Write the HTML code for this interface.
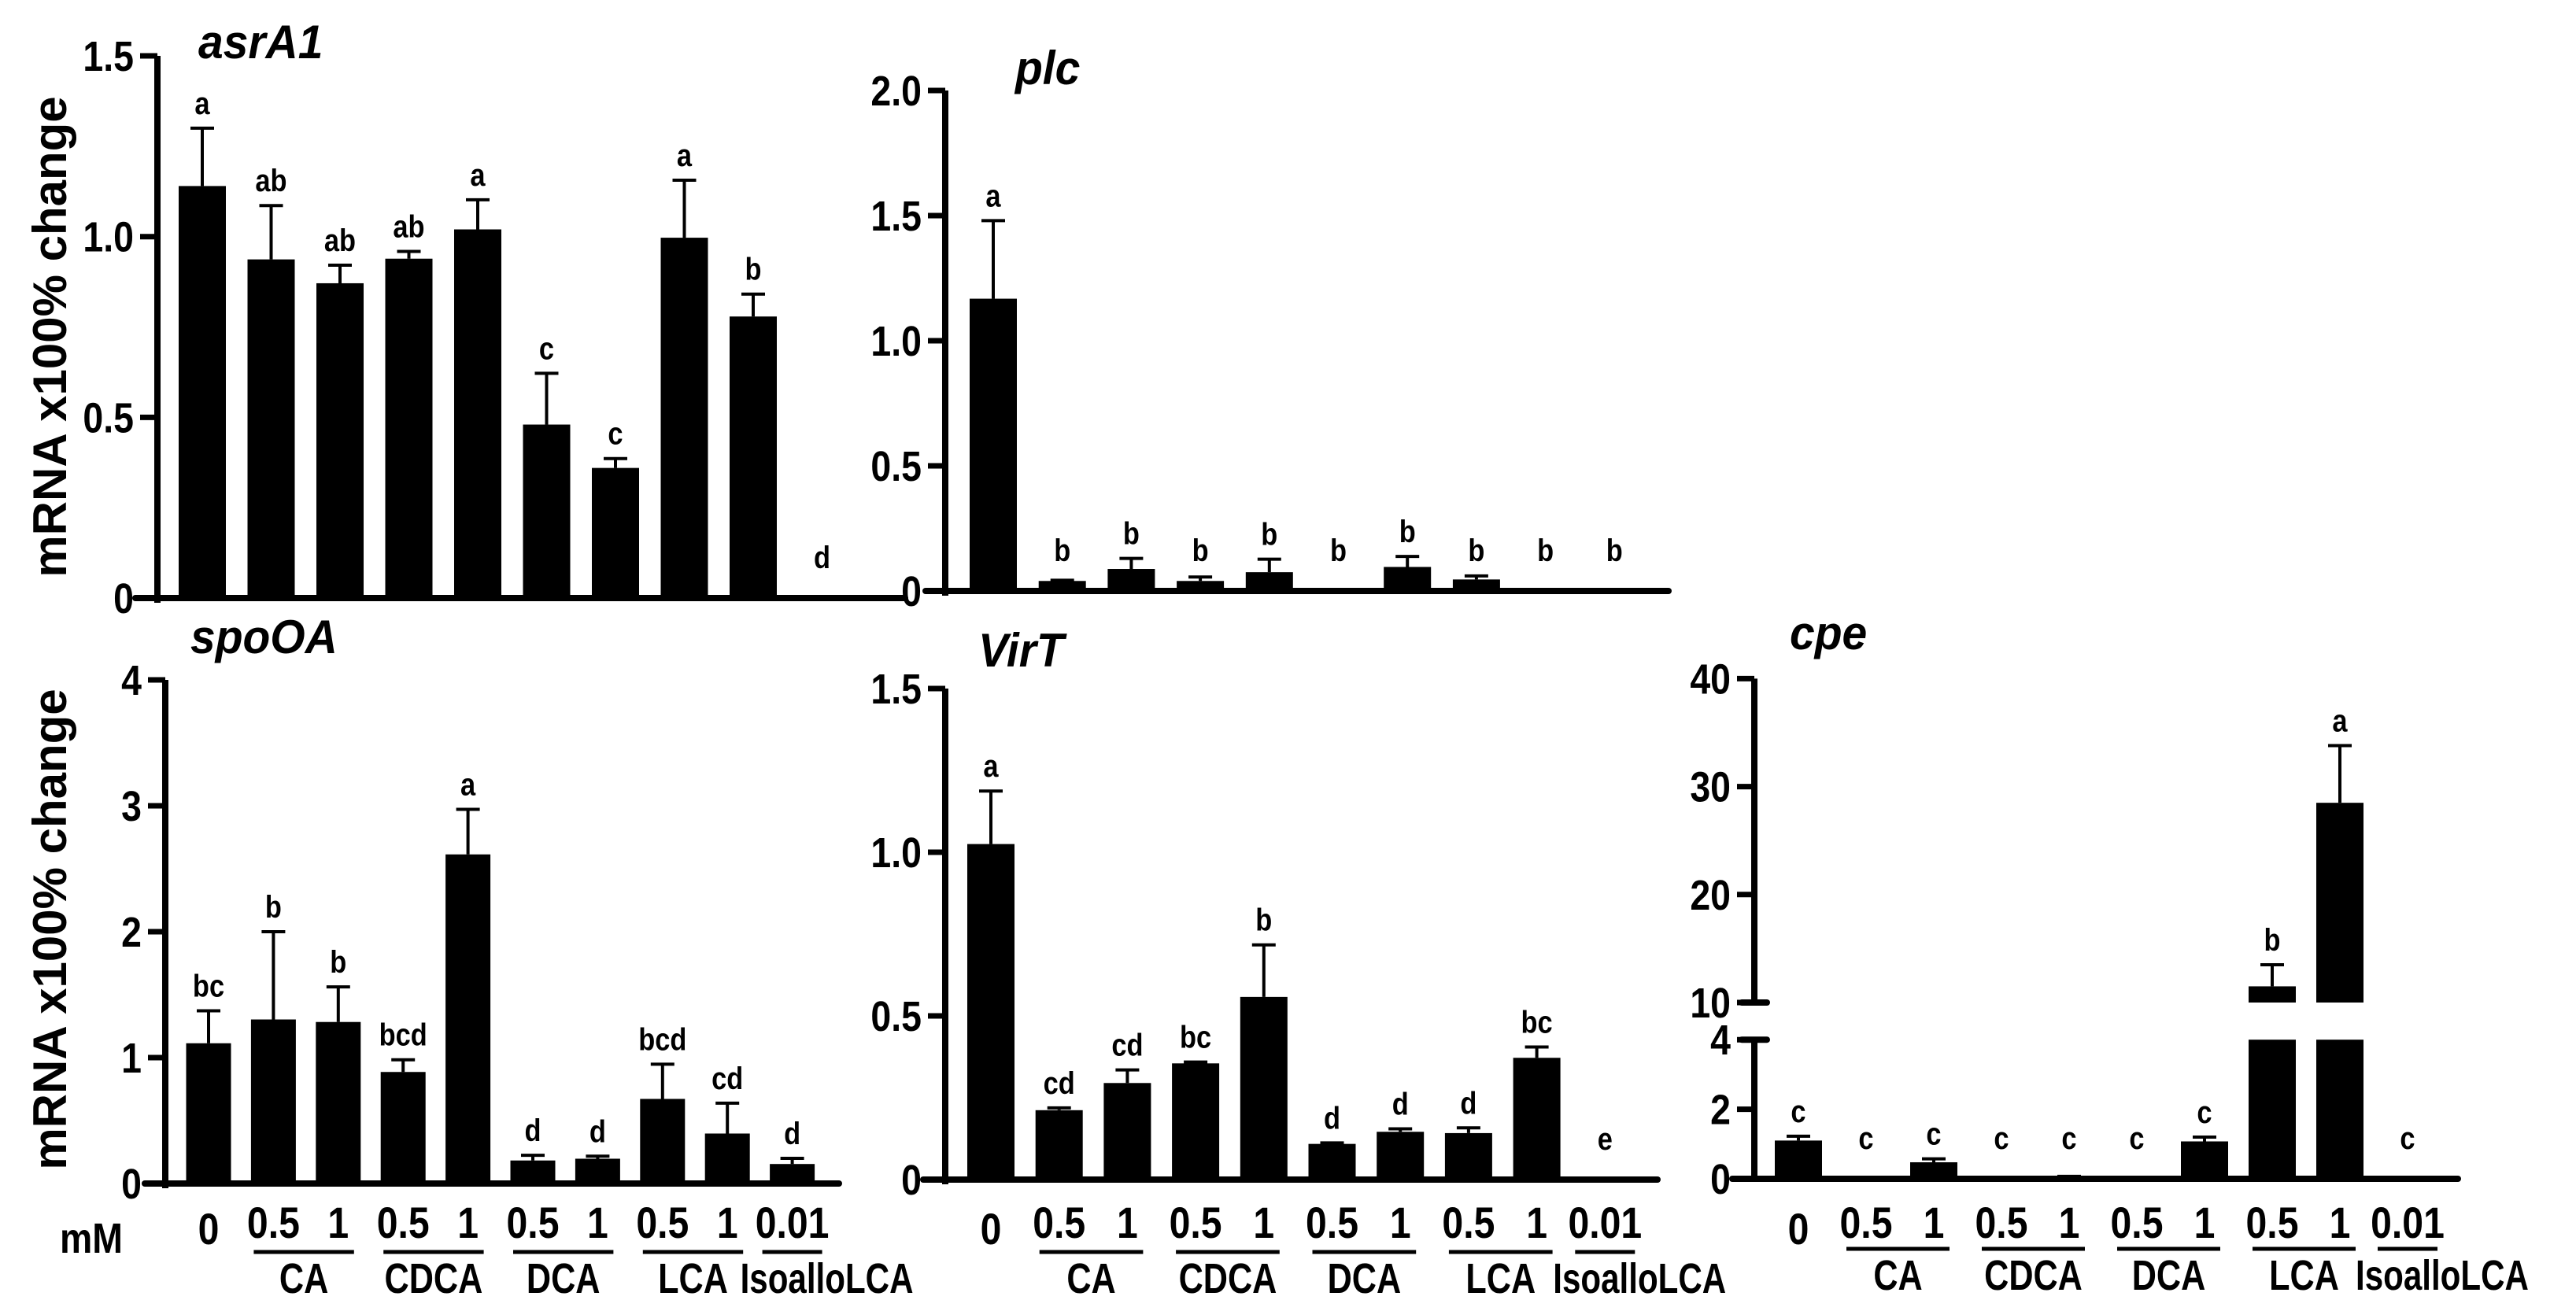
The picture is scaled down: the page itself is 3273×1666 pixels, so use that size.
<!DOCTYPE html>
<html><head><meta charset="utf-8"><style>
html,body{margin:0;padding:0;background:#fff;}
svg{display:block;font-family:"Liberation Sans",Arial,sans-serif;font-weight:bold;}
</style></head><body>
<svg id="fig" width="3273" height="1666" viewBox="0 0 3273 1666" xmlns="http://www.w3.org/2000/svg"></svg>
<script>
// ---- data ----
const doseLabels = ["0","0.5","1","0.5","1","0.5","1","0.5","1","0.01"];
const groupNames = ["CA","CDCA","DCA","LCA","IsoalloLCA"];
const asrA1Values = [1.14,0.937,0.871,0.939,1.02,0.48,0.36,0.997,0.779,0];
const asrA1Errors = [1.30,1.086,0.921,0.959,1.102,0.622,0.386,1.156,0.841,0];
const asrA1Letters = ["a","ab","ab","ab","a","c","c","a","b","d"];
const asrA1Ticks = ["0","0.5","1.0","1.5"];
const plcValues = [1.168,0.04,0.088,0.04,0.075,0,0.096,0.046,0.005,0.002];
const plcErrors = [1.48,0.043,0.13,0.056,0.127,0,0.138,0.06,0.005,0.002];
const plcLetters = ["a","b","b","b","b","b","b","b","b","b"];
const plcTicks = ["0","0.5","1.0","1.5","2.0"];
const spoValues = [1.114,1.303,1.283,0.886,2.614,0.183,0.197,0.672,0.397,0.155];
const spoErrors = [1.372,2.0,1.562,0.983,2.972,0.224,0.217,0.948,0.638,0.2];
const spoLetters = ["bc","b","b","bcd","a","d","d","bcd","cd","d"];
const spoTicks = ["0","1","2","3","4"];
const virValues = [1.025,0.212,0.295,0.355,0.558,0.109,0.146,0.142,0.372,0.005];
const virErrors = [1.187,0.219,0.335,0.359,0.717,0.112,0.155,0.158,0.405,0.005];
const virLetters = ["a","cd","cd","bc","b","d","d","d","bc","e"];
const virTicks = ["0","0.5","1.0","1.5"];
const cpeValues = [1.1,0,0.475,0.02,0.05,0.02,1.075,11.5,28.5,0];
const cpeErrors = [1.225,0,0.575,0.02,0.07,0.02,1.2,13.5,33.8,0];
const cpeLetters = ["c","c","c","c","c","c","c","b","a","c"];
const cpeTicks = ["0","2","4","10","20","30","40"];

const NS="http://www.w3.org/2000/svg";
const svg=document.getElementById('fig');
function el(tag,attrs,parent){const e=document.createElementNS(NS,tag);for(const k in attrs)e.setAttribute(k,attrs[k]);(parent||svg).appendChild(e);return e;}
function txt(x,y,s,size,anchor,parent,italic,sx){
  const t=el('text',{x:0,y:0,'font-size':size,'text-anchor':anchor||'middle',transform:`translate(${x},${y}) scale(${sx||0.86},1)`},parent);
  if(italic)t.setAttribute('font-style','italic');
  t.textContent=s;return t;}

function panel(cfg){
  const g=el('g',{});
  
  
  const y=cfg.yScale;
  const cx=i=>cfg.c0+i*cfg.step;
  cfg.values.forEach((v,i)=>{
    const x=cx(i), w=cfg.barW;
    if(cfg.segments){
      cfg.segments.forEach(s=>{
        if(v>s[0]){const top=y(Math.min(v,s[1]));const bot=y(s[0]);
          const r=el('rect',{x:x-w/2,y:top,width:w,height:Math.max(bot-top,0),fill:'#000'},g);
          
          }
      });
    } else {
      const top=y(v);
      const r=el('rect',{x:x-w/2,y:top,width:w,height:Math.max(y(0)-top,0),fill:'#000'},g);
      
      
    }
    const e=cfg.errors[i];
    if(e>v+0.0001){
      const eb=el('path',{d:`M${x},${y(v)}V${y(e)}M${x-15},${y(e)}H${x+15}`,stroke:'#000','stroke-width':4,fill:'none'},g);
      
      
    }
    const ly=Math.min(y(e)-18,y(0)-38);
    const lt=txt(x,ly,cfg.letters[i],40,'middle',g);
    
    
  });
  const xa=el('line',{x1:cfg.xa0,x2:cfg.xa1,y1:y(0),y2:y(0),stroke:'#000','stroke-width':8,'stroke-linecap':'round'},g);
  
  
  if(cfg.segments){
    cfg.segments.forEach(s=>{
      const ya=el('line',{x1:cfg.ax,x2:cfg.ax,y1:y(s[0])+4,y2:y(s[1]),stroke:'#000','stroke-width':8},g);
      
      
    });
    [4,10].forEach(b=>{el('line',{x1:cfg.ax-16,x2:cfg.ax+16,y1:y(b),y2:y(b),stroke:'#000','stroke-width':8,'stroke-linecap':'round'},g);});
  } else {
    const ya=el('line',{x1:cfg.ax,x2:cfg.ax,y1:y(0)+6,y2:y(parseFloat(cfg.ticks[cfg.ticks.length-1])),stroke:'#000','stroke-width':8},g);
    
    
  }
  cfg.ticks.forEach(t=>{
    const v=parseFloat(t), yy=y(v);
    el('line',{x1:cfg.ax-22,x2:cfg.ax,y1:yy,y2:yy,stroke:'#000','stroke-width':7},g);
    const tl=txt(cfg.ax-30,yy+19,t,54,'end',g);
    
    
  });
  const ti=txt(cfg.tx,cfg.ty,cfg.title,60,'start',g,true,0.95);
  
  
  if(cfg.xlabels){
    doseLabels.forEach((d,i)=>{
      const l=txt(cx(i),cfg.labY+(i==0?8:0),d,56,'middle',g);
      
      
    });
    const groups=[[1,2],[3,4],[5,6],[7,8],[9,9]];
    groups.forEach((gr,k)=>{
      const a=cx(gr[0]), b=cx(gr[1]);
      const single=gr[0]==gr[1];
      const x0=single?a-38:a-25, x1=single?a+38:b+20;
      el('line',{x1:x0,x2:x1,y1:cfg.lineY,y2:cfg.lineY,stroke:'#000','stroke-width':5},g);
      const gl=single?txt(x0-28,cfg.lineY+52,groupNames[k],54,'start',g,false,0.78)
                     :txt((x0+x1)/2,cfg.lineY+52,groupNames[k],54,'middle',g,false,0.8);
      
      
    });
  }
}
function lin(z,u){return v=>z-v*u;}

panel({name:'asra1',values:asrA1Values,errors:asrA1Errors,letters:asrA1Letters,ticks:asrA1Ticks,
  yScale:lin(760,459.3),ax:200,c0:257,step:87.5,barW:60,xa0:172,xa1:1150,tx:252,ty:74,title:'asrA1'});
panel({name:'plc',values:plcValues,errors:plcErrors,letters:plcLetters,ticks:plcTicks,
  yScale:lin(751,318),ax:1201,c0:1262,step:87.7,barW:60,xa0:1176,xa1:2120,tx:1290,ty:107,title:'plc'});
panel({name:'spooa',values:spoValues,errors:spoErrors,letters:spoLetters,ticks:spoTicks,
  yScale:lin(1504,160),ax:210,c0:265,step:82.4,barW:57,xa0:184,xa1:1066,tx:242,ty:830,title:'spoOA',
  xlabels:true,labY:1573,lineY:1591});
panel({name:'virt',values:virValues,errors:virErrors,letters:virLetters,ticks:virTicks,
  yScale:lin(1499,416),ax:1201,c0:1259,step:86.7,barW:60,xa0:1173,xa1:2106,tx:1243,ty:847,title:'VirT',
  xlabels:true,labY:1573,lineY:1591});
panel({name:'cpe',values:cpeValues,errors:cpeErrors,letters:cpeLetters,ticks:cpeTicks,
  yScale:v=>v<=4?1498-v*44.2:1274-(v-10)*13.72,segments:[[0,4],[10,40]],
  ax:2229,c0:2285,step:86,barW:60,xa0:2201,xa1:3123,tx:2274,ty:825,title:'cpe',
  xlabels:true,labY:1573,lineY:1587});

[428,1181].forEach((cy,k)=>{
  const t=el('text',{x:0,y:0,'font-size':60,'text-anchor':'middle',transform:`translate(84,${cy}) rotate(-90)`});
  
  
  t.textContent='mRNA x100% change';
});
const mm=txt(116,1592,'mM',54,'middle');


</script>
</body></html>
